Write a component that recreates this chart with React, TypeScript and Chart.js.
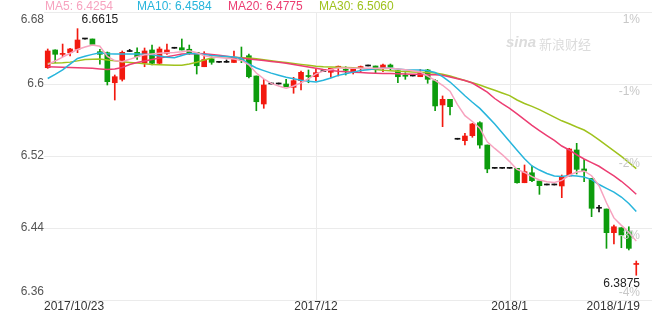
import React, { useEffect, useRef } from 'react';
import { Chart, registerables } from 'chart.js';

Chart.register(...registerables);

// ---- candles (one per slot) ----
const opens = [
  6.6181, 6.6378, 6.6329, 6.6348, 6.6386, 6.6500, 6.6500, 6.6359, 6.6348, 6.6014,
  6.6052, 6.6361, 6.6352, 6.6233, 6.6378, 6.6230, 6.6341, 6.6397, 6.6403, 6.6386,
  6.6352, 6.6192, 6.6278, 6.6241, 6.6241, 6.6239, 6.6289, 6.6314, 6.6089, 6.5778,
  6.6000, 6.6000, 6.6000, 6.5963, 6.6037, 6.6094, 6.6081, 6.6137, 6.6130, 6.6186,
  6.6159, 6.6126, 6.6178, 6.6200, 6.6200, 6.6174, 6.6211, 6.6148, 6.6092, 6.6089,
  6.6081, 6.6156, 6.6037, 6.5767, 6.5830, 6.5386, 6.5370, 6.5426, 6.5570, 6.5322,
  6.5063, 6.5063, 6.5063, 6.5063, 6.4903, 6.5014, 6.4922, 6.4878, 6.4878, 6.4867,
  6.4978, 6.5267, 6.5056, 6.4952, 6.4619, 6.4611, 6.4348, 6.4403, 6.4359, 6.3995,
];
const highs = [
  6.6389, 6.6380, 6.6444, 6.6397, 6.6615, 6.6505, 6.6500, 6.6386, 6.6356, 6.6100,
  6.6367, 6.6385, 6.6403, 6.6400, 6.6433, 6.6411, 6.6444, 6.6397, 6.6500, 6.6433,
  6.6352, 6.6359, 6.6303, 6.6241, 6.6267, 6.6367, 6.6411, 6.6333, 6.6089, 6.6052,
  6.6000, 6.6010, 6.6052, 6.6074, 6.6144, 6.6156, 6.6163, 6.6137, 6.6174, 6.6200,
  6.6192, 6.6181, 6.6200, 6.6200, 6.6200, 6.6222, 6.6222, 6.6148, 6.6126, 6.6089,
  6.6163, 6.6163, 6.6050, 6.5867, 6.5830, 6.5386, 6.5452, 6.5563, 6.5581, 6.5322,
  6.5063, 6.5063, 6.5063, 6.5063, 6.5100, 6.5089, 6.4922, 6.4878, 6.4878, 6.4989,
  6.5286, 6.5341, 6.5163, 6.4952, 6.4652, 6.4611, 6.4433, 6.4403, 6.4414, 6.4033,
];
const lows = [
  6.6174, 6.6237, 6.6303, 6.6311, 6.6348, 6.6497, 6.6433, 6.6219, 6.5989, 6.5822,
  6.6033, 6.6361, 6.6274, 6.6192, 6.6211, 6.6222, 6.6330, 6.6397, 6.6378, 6.6330,
  6.6111, 6.6192, 6.6219, 6.6241, 6.6241, 6.6239, 6.6237, 6.6067, 6.5703, 6.5730,
  6.6000, 6.6000, 6.5970, 6.5897, 6.5933, 6.6014, 6.6037, 6.6137, 6.6074, 6.6089,
  6.6100, 6.6111, 6.6137, 6.6200, 6.6126, 6.6137, 6.6156, 6.6014, 6.6052, 6.6089,
  6.6081, 6.6008, 6.5703, 6.5526, 6.5656, 6.5386, 6.5322, 6.5408, 6.5286, 6.5014,
  6.5063, 6.5063, 6.5063, 6.4897, 6.4903, 6.4914, 6.4774, 6.4878, 6.4878, 6.4737,
  6.4978, 6.5000, 6.4914, 6.4526, 6.4578, 6.4174, 6.4222, 6.4181, 6.4156, 6.3875,
];
const closes = [
  6.6367, 6.6330, 6.6335, 6.6389, 6.6489, 6.6500, 6.6441, 6.6330, 6.6026, 6.6081,
  6.6352, 6.6361, 6.6303, 6.6367, 6.6230, 6.6389, 6.6378, 6.6397, 6.6378, 6.6344,
  6.6203, 6.6272, 6.6241, 6.6241, 6.6241, 6.6294, 6.6267, 6.6081, 6.5803, 6.5989,
  6.6000, 6.6000, 6.5970, 6.6037, 6.6130, 6.6083, 6.6126, 6.6137, 6.6174, 6.6192,
  6.6152, 6.6163, 6.6194, 6.6200, 6.6174, 6.6211, 6.6186, 6.6081, 6.6086, 6.6089,
  6.6126, 6.6052, 6.5756, 6.5830, 6.5748, 6.5386, 6.5422, 6.5556, 6.5322, 6.5056,
  6.5063, 6.5063, 6.5063, 6.4903, 6.5026, 6.4926, 6.4870, 6.4878, 6.4878, 6.4963,
  6.5278, 6.5052, 6.5033, 6.4619, 6.4619, 6.4348, 6.4414, 6.4322, 6.4174, 6.4000,
];

// ---- moving averages ----
const ma5 = [
  6.6217, 6.6256, 6.6298, 6.6342, 6.6384, 6.6411, 6.6433, 6.6419, 6.6306, 6.6260,
  6.6248, 6.6274, 6.6303, 6.6324, 6.6333, 6.6341, 6.6346, 6.6351, 6.6359, 6.6370,
  6.6348, 6.6314, 6.6300, 6.6294, 6.6286, 6.6278, 6.6262, 6.6214, 6.6122, 6.6056,
  6.6007, 6.5978, 6.5953, 6.5978, 6.6012, 6.6058, 6.6113, 6.6143, 6.6162, 6.6179,
  6.6178, 6.6174, 6.6174, 6.6174, 6.6174, 6.6174, 6.6174, 6.6168, 6.6158, 6.6147,
  6.6134, 6.6088, 6.6041, 6.5986, 6.5920, 6.5771, 6.5648, 6.5583, 6.5509, 6.5358,
  6.5284, 6.5216, 6.5138, 6.5051, 6.5017, 6.4970, 6.4933, 6.4914, 6.4906, 6.4929,
  6.4986, 6.5022, 6.5034, 6.4981, 6.4870, 6.4680, 6.4512, 6.4429, 6.4352, 6.4254,
];
const ma10 = [
  6.6061, 6.6107, 6.6156, 6.6220, 6.6284, 6.6308, 6.6329, 6.6348, 6.6337, 6.6333,
  6.6333, 6.6333, 6.6332, 6.6331, 6.6326, 6.6311, 6.6297, 6.6293, 6.6317, 6.6340,
  6.6336, 6.6328, 6.6318, 6.6310, 6.6306, 6.6300, 6.6283, 6.6222, 6.6178, 6.6149,
  6.6121, 6.6098, 6.6076, 6.6059, 6.6041, 6.6031, 6.6022, 6.6042, 6.6067, 6.6096,
  6.6114, 6.6132, 6.6149, 6.6159, 6.6169, 6.6174, 6.6174, 6.6168, 6.6158, 6.6156,
  6.6156, 6.6147, 6.6128, 6.6082, 6.6022, 6.5947, 6.5869, 6.5797, 6.5729, 6.5643,
  6.5556, 6.5459, 6.5362, 6.5264, 6.5169, 6.5089, 6.5044, 6.5006, 6.4977, 6.4971,
  6.4982, 6.4979, 6.4967, 6.4938, 6.4883, 6.4840, 6.4799, 6.4744, 6.4672, 6.4584,
];
const ma20 = [
  6.6192, 6.6190, 6.6187, 6.6184, 6.6181, 6.6178, 6.6174, 6.6167, 6.6160, 6.6166,
  6.6184, 6.6217, 6.6239, 6.6256, 6.6272, 6.6288, 6.6303, 6.6318, 6.6332, 6.6337,
  6.6340, 6.6337, 6.6328, 6.6319, 6.6309, 6.6298, 6.6289, 6.6279, 6.6270, 6.6260,
  6.6251, 6.6241, 6.6231, 6.6217, 6.6203, 6.6189, 6.6176, 6.6162, 6.6151, 6.6143,
  6.6137, 6.6130, 6.6127, 6.6123, 6.6120, 6.6118, 6.6116, 6.6113, 6.6111, 6.6109,
  6.6107, 6.6104, 6.6102, 6.6098, 6.6078, 6.6058, 6.6039, 6.6011, 6.5961, 6.5909,
  6.5839, 6.5781, 6.5730, 6.5667, 6.5604, 6.5541, 6.5483, 6.5427, 6.5373, 6.5311,
  6.5267, 6.5214, 6.5167, 6.5126, 6.5086, 6.5033, 6.4978, 6.4919, 6.4850, 6.4775,
];
const ma30 = [
  6.6230, 6.6232, 6.6236, 6.6243, 6.6257, 6.6271, 6.6276, 6.6278, 6.6267, 6.6257,
  6.6248, 6.6240, 6.6232, 6.6224, 6.6218, 6.6214, 6.6211, 6.6207, 6.6208, 6.6223,
  6.6242, 6.6267, 6.6289, 6.6304, 6.6302, 6.6298, 6.6293, 6.6288, 6.6280, 6.6270,
  6.6259, 6.6248, 6.6238, 6.6228, 6.6218, 6.6208, 6.6198, 6.6191, 6.6189, 6.6186,
  6.6183, 6.6181, 6.6174, 6.6167, 6.6160, 6.6153, 6.6148, 6.6143, 6.6138, 6.6134,
  6.6131, 6.6128, 6.6121, 6.6108, 6.6089, 6.6063, 6.6039, 6.6013, 6.5989, 6.5959,
  6.5930, 6.5900, 6.5871, 6.5822, 6.5784, 6.5751, 6.5716, 6.5673, 6.5632, 6.5591,
  6.5558, 6.5522, 6.5489, 6.5437, 6.5378, 6.5317, 6.5257, 6.5196, 6.5128, 6.5060,
];

// ---- axes text ----
const yTicks = [6.68, 6.6, 6.52, 6.44, 6.36];
const yTickLabels = ['6.68', '6.6', '6.52', '6.44', '6.36'];
const pctLabels = ['1%', '-1%', '-2%', '-3%', '-4%'];
const xTickSlots = [0, 36, 62, 79];
const xTickLabels = ['2017/10/23', '2017/12', '2018/1', '2018/1/19'];
const maNames = ['MA5', 'MA10', 'MA20', 'MA30'];

const slots = opens.map((_, i) => i);

const RED = '#f2190f';
const GREEN = '#0c9c0c';
const BLACK = '#111111';
const MA_COLORS = ['#f7a3bf', '#27b5dc', '#ec3d72', '#9fc21d'];
const FONT = '"Liberation Sans", Arial, Helvetica, sans-serif';

export default function App() {
  const ref = useRef<HTMLCanvasElement>(null);

  useEffect(() => {
    document.body.style.margin = '0';
    const canvas = ref.current;
    if (!canvas) return;

    const colors = opens.map((o, i) =>
      closes[i] > o ? RED : closes[i] < o ? GREEN : BLACK
    );

    const overlay = {
      id: 'sinaOverlay',
      beforeDatasetsDraw(chart: any) {
        const { ctx, chartArea, scales } = chart;
        const x = scales.x;
        const y = scales.y;
        ctx.save();
        ctx.strokeStyle = '#ebebeb';
        ctx.lineWidth = 1;
        yTicks.forEach((v) => {
          const py = Math.round(y.getPixelForValue(v)) + 0.5;
          ctx.beginPath();
          ctx.moveTo(chartArea.left, py);
          ctx.lineTo(chart.width - 4, py);
          ctx.stroke();
        });
        xTickSlots.slice(1, 3).forEach((s) => {
          const px = Math.round(x.getPixelForValue(s)) + 0.5;
          ctx.beginPath();
          ctx.moveTo(px, chartArea.top);
          ctx.lineTo(px, chartArea.bottom);
          ctx.stroke();
        });
        // watermark
        ctx.fillStyle = '#dcdcdc';
        ctx.textBaseline = 'middle';
        ctx.textAlign = 'left';
        ctx.font = 'italic bold 15px ' + FONT;
        ctx.fillText('sina', 506, 43);
        ctx.font = '13px "Noto Sans CJK SC", sans-serif';
        ctx.fillText('新浪财经', 539, 44);
        ctx.restore();
      },
      afterDatasetsDraw(chart: any) {
        const { ctx, chartArea, scales } = chart;
        const x = scales.x;
        const y = scales.y;
        ctx.save();
        ctx.font = '12px ' + FONT;
        ctx.textBaseline = 'middle';
        // left price labels
        ctx.fillStyle = '#555555';
        ctx.textAlign = 'right';
        yTicks.forEach((v, i) => {
          let py = y.getPixelForValue(v);
          if (i === 0) py += 8;
          if (i === yTicks.length - 1) py -= 8;
          ctx.fillText(yTickLabels[i], chartArea.left, py);
        });
        // right percent labels
        ctx.fillStyle = '#c8c8c8';
        yTicks.forEach((v, i) => {
          let py = y.getPixelForValue(v) + 8;
          if (i === yTicks.length - 1) py -= 15;
          ctx.fillText(pctLabels[i], chartArea.right, py);
        });
        // x labels
        ctx.fillStyle = '#333333';
        xTickSlots.forEach((s, i) => {
          const px = x.getPixelForValue(s);
          if (i === 0) {
            ctx.textAlign = 'left';
            ctx.fillText(xTickLabels[i], chartArea.left, chartArea.bottom + 7);
          } else if (i === xTickSlots.length - 1) {
            ctx.textAlign = 'right';
            ctx.fillText(xTickLabels[i], chartArea.right, chartArea.bottom + 7);
          } else {
            ctx.textAlign = 'center';
            ctx.fillText(xTickLabels[i], px, chartArea.bottom + 7);
          }
        });
        // max / min labels
        let maxI = 0;
        let minI = 0;
        highs.forEach((h, i) => { if (h > highs[maxI]) maxI = i; });
        lows.forEach((l, i) => { if (l < lows[minI]) minI = i; });
        ctx.fillStyle = '#222222';
        ctx.textAlign = 'left';
        ctx.fillText(highs[maxI].toFixed(4), x.getPixelForValue(maxI) + 4, y.getPixelForValue(highs[maxI]) - 9);
        ctx.textAlign = 'right';
        ctx.fillText(lows[minI].toFixed(4), chartArea.right, y.getPixelForValue(lows[minI]) + 8);
        // legend
        const mas = [ma5, ma10, ma20, ma30];
        const starts = [45, 137, 228, 319];
        ctx.textAlign = 'left';
        ctx.textBaseline = 'middle';
        mas.forEach((arr, i) => {
          ctx.fillStyle = MA_COLORS[i];
          ctx.fillText(maNames[i] + ': ' + arr[arr.length - 1].toFixed(4), starts[i], 7);
        });
        ctx.restore();
      },
    };

    const lineDs = (data: number[], color: string) => ({
      type: 'line' as const,
      data,
      borderColor: color,
      backgroundColor: color,
      borderWidth: 1.5,
      pointRadius: 0,
      tension: 0,
      order: 0,
    });

    const chart = new Chart(canvas, {
      type: 'bar',
      data: {
        labels: slots,
        datasets: [
          lineDs(ma5, MA_COLORS[0]),
          lineDs(ma10, MA_COLORS[1]),
          lineDs(ma20, MA_COLORS[2]),
          lineDs(ma30, MA_COLORS[3]),
          {
            type: 'bar',
            data: opens.map((o, i) => [o, closes[i]]),
            backgroundColor: colors,
            borderWidth: 0,
            barThickness: 5,
            minBarLength: 1,
            grouped: false,
            order: 1,
          } as any,
          {
            type: 'bar',
            data: lows.map((l, i) => [l, highs[i]]),
            backgroundColor: colors,
            borderWidth: 0,
            barThickness: 1,
            minBarLength: 1,
            grouped: false,
            order: 2,
          } as any,
        ],
      },
      options: {
        responsive: false,
        animation: false,
        events: [],
        layout: { padding: { left: 44, right: 16, top: 12, bottom: 14 } },
        plugins: { legend: { display: false }, tooltip: { enabled: false } },
        scales: {
          x: { type: 'category', offset: true, display: false },
          y: { min: 6.36, max: 6.68, display: false },
        },
      },
      plugins: [overlay],
    });
    return () => chart.destroy();
  }, []);

  return (
    <div style={{ position: 'absolute', left: 0, top: 0, width: 656, height: 314 }}>
      <canvas ref={ref} width={656} height={314} style={{ display: 'block', width: 656, height: 314 }} />
    </div>
  );
}
